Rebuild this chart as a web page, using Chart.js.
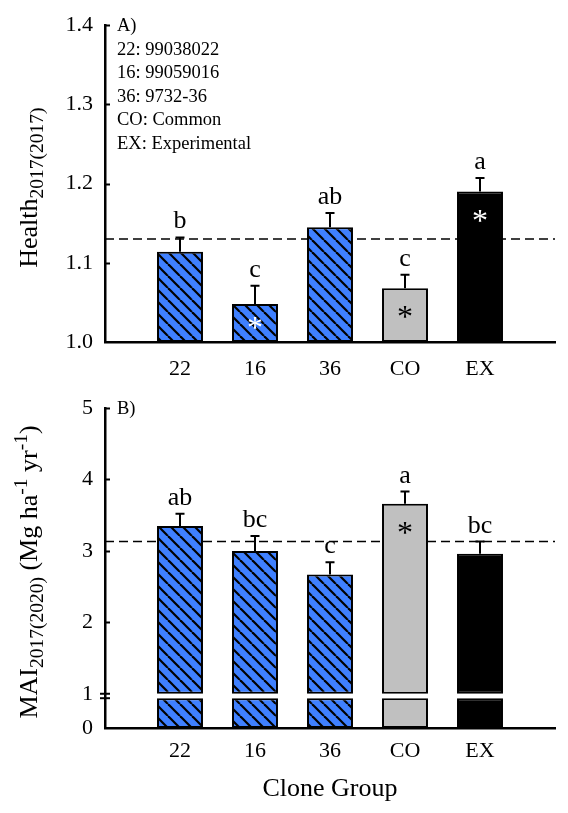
<!DOCTYPE html>
<html>
<head>
<meta charset="utf-8">
<script src="https://cdn.jsdelivr.net/npm/chart.js@4.4.1/dist/chart.umd.min.js"></script>
<style>
  body { margin: 0; background: #fff; }
  .panel { position: absolute; left: 0; width: 568px; }
  #boxA { top: 0; height: 380px; }
  #boxB { top: 380px; height: 433px; }
</style>
</head>
<body>
<div class="panel" id="boxA"><canvas id="chartA"></canvas></div>
<div class="panel" id="boxB"><canvas id="chartB"></canvas></div>
<script>
// data
const categories = ['22', '16', '36', 'CO', 'EX'];
const cloneNames = ['22: 99038022', '16: 99059016', '36: 9732-36', 'CO: Common', 'EX: Experimental'];

const healthMean = [1.114, 1.048, 1.145, 1.068, 1.190];
const healthErr = [0.018, 0.023, 0.018, 0.017, 0.017];
const healthLetters = ['b', 'c', 'ab', 'c', 'a'];
const healthStar = [false, true, false, true, true];
const healthRef = 1.13;
const healthTicks = [1.0, 1.1, 1.2, 1.3, 1.4];

const maiMean = [3.35, 3.00, 2.67, 3.66, 2.96];
const maiErr = [0.17, 0.21, 0.17, 0.17, 0.17];
const maiLetters = ['ab', 'bc', 'c', 'a', 'bc'];
const maiStar = [false, false, false, true, false];
const maiRef = 3.13;
const maiTicks = [0, 1, 2, 3, 4, 5];

const SERIF = "'Liberation Serif', 'Times New Roman', serif";
const BLUE = '#3f80ff';
const GRAY = '#c0c0c0';

// y axis of panel B is broken between 0 and 1
const BREAK_AT = 1;
const BREAK_FRAC = 0.107;
const LOW_TOP = 0.87;

class BrokenLinearScale extends Chart.LinearScale {
    getPixelForValue(value) {
        if (value === null || isNaN(value)) return NaN;
        const span = this.bottom - this.top;
        const low = span * BREAK_FRAC;
        if (value <= BREAK_AT) {
            return this.bottom - (value - this.min) / (BREAK_AT - this.min) * low;
        }
        return this.bottom - low - (value - BREAK_AT) / (this.max - BREAK_AT) * (span - low);
    }
    getValueForPixel(pixel) {
        const span = this.bottom - this.top;
        const low = span * BREAK_FRAC;
        const d = this.bottom - pixel;
        if (d <= low) return this.min + d / low * (BREAK_AT - this.min);
        return BREAK_AT + (d - low) / (span - low) * (this.max - BREAK_AT);
    }
}
BrokenLinearScale.id = 'brokenLinear';
BrokenLinearScale.defaults = Chart.LinearScale.defaults;
Chart.register(BrokenLinearScale);

function makeHatch() {
    const c = document.createElement('canvas');
    c.width = 12;
    c.height = 12;
    const g = c.getContext('2d');
    g.fillStyle = BLUE;
    g.fillRect(0, 0, 12, 12);
    g.strokeStyle = '#000';
    g.lineWidth = 2.2;
    [-12, 0, 12].forEach(function(off) {
        g.beginPath();
        g.moveTo(off, 0);
        g.lineTo(off + 12, 12);
        g.stroke();
    });
    return g.createPattern(c, 'repeat');
}

const hatch = makeHatch();
const barFills = [hatch, hatch, hatch, GRAY, '#000000'];
const starColours = ['#fff', '#fff', '#fff', '#000', '#fff'];

function points(values, low) {
    return values.map(function(v, i) {
        return { x: i + 1, y: low === undefined ? v : [low, v] };
    });
}

function drawRich(ctx, parts, x, yCenter) {
    ctx.save();
    ctx.translate(x, yCenter);
    ctx.rotate(-Math.PI / 2);
    let total = 0;
    parts.forEach(function(p) {
        ctx.font = p.size + 'px ' + SERIF;
        total += ctx.measureText(p.text).width;
    });
    let pos = -total / 2;
    ctx.fillStyle = '#000';
    ctx.textAlign = 'left';
    ctx.textBaseline = 'alphabetic';
    parts.forEach(function(p) {
        ctx.font = p.size + 'px ' + SERIF;
        ctx.fillText(p.text, pos, p.shift);
        pos += ctx.measureText(p.text).width;
    });
    ctx.restore();
}

// reference line, error bars, letters, stars, ticks, notes and title
function decor(cfg) {
    return {
        id: 'decor' + cfg.name,
        beforeDatasetsDraw(chart) {
            const ctx = chart.ctx;
            const area = chart.chartArea;
            const y = chart.scales.y.getPixelForValue(cfg.ref);
            ctx.save();
            ctx.strokeStyle = '#000';
            ctx.lineWidth = 1.5;
            ctx.setLineDash([9, 5]);
            ctx.beginPath();
            ctx.moveTo(area.left, y);
            ctx.lineTo(area.right, y);
            ctx.stroke();
            ctx.restore();
        },
        afterDatasetsDraw(chart) {
            const ctx = chart.ctx;
            const xs = chart.scales.x;
            const ys = chart.scales.y;
            ctx.save();
            cfg.mean.forEach(function(m, i) {
                const x = xs.getPixelForValue(i + 1);
                const top = ys.getPixelForValue(m);
                const err = ys.getPixelForValue(m + cfg.err[i]);
                ctx.strokeStyle = '#000';
                ctx.lineWidth = 2;
                ctx.beginPath();
                ctx.moveTo(x, top);
                ctx.lineTo(x, err);
                ctx.moveTo(x - 4.5, err);
                ctx.lineTo(x + 4.5, err);
                ctx.stroke();

                ctx.fillStyle = '#000';
                ctx.font = '26px ' + SERIF;
                ctx.textAlign = 'center';
                ctx.textBaseline = 'alphabetic';
                ctx.fillText(cfg.letters[i], x, err - 9);

                if (cfg.star[i]) {
                    const bottom = ys.getPixelForValue(cfg.floor);
                    const cy = Math.min(top + 24, (top + bottom) / 2);
                    ctx.font = '32px ' + SERIF;
                    const mt = ctx.measureText('*');
                    ctx.fillStyle = starColours[i];
                    ctx.fillText('*', x, cy + (mt.actualBoundingBoxAscent - mt.actualBoundingBoxDescent) / 2);
                }
            });
            ctx.restore();
        },
        afterDraw(chart) {
            const ctx = chart.ctx;
            const area = chart.chartArea;
            const ys = chart.scales.y;
            ctx.save();
            ctx.strokeStyle = '#000';
            ctx.lineWidth = 2;
            cfg.ticks.forEach(function(v) {
                if (v <= cfg.floor || v === cfg.breakAt) return;
                const y = Math.round(ys.getPixelForValue(v)) + 0.5;
                ctx.beginPath();
                ctx.moveTo(area.left, y);
                ctx.lineTo(area.left + 5, y);
                ctx.stroke();
            });
            if (cfg.breakAt !== undefined) {
                [cfg.breakAt, LOW_TOP].forEach(function(v) {
                    const y = ys.getPixelForValue(v);
                    ctx.beginPath();
                    ctx.moveTo(area.left - 5, y);
                    ctx.lineTo(area.left + 5, y);
                    ctx.stroke();
                });
            }
            ctx.fillStyle = '#000';
            ctx.textAlign = 'left';
            ctx.textBaseline = 'middle';
            ctx.font = '18.5px ' + SERIF;
            ctx.fillText(cfg.tag, area.left + 12, area.top + 1);
            cfg.notes.forEach(function(t, i) {
                ctx.fillText(t, area.left + 12, area.top + 25 + i * 23.4);
            });
            ctx.restore();
            drawRich(ctx, cfg.title, 37, (area.top + area.bottom) / 2 + 4);
        }
    };
}

function xScale(height, pad, title) {
    return {
        type: 'linear',
        min: 0,
        max: 6,
        offset: false,
        afterBuildTicks: function(scale) {
            scale.ticks = categories.map(function(c, i) { return { value: i + 1 }; });
        },
        afterFit: function(scale) { scale.height = height; },
        grid: { display: false, drawTicks: false, offset: false },
        border: { display: true, color: '#000', width: 2.5 },
        ticks: {
            autoSkip: false,
            maxRotation: 0,
            padding: pad,
            color: '#000',
            font: { family: SERIF, size: 22 },
            callback: function(v) { return categories[v - 1]; }
        },
        title: title
    };
}

function yScale(type, min, max, tickValues, fmt) {
    return {
        type: type,
        min: min,
        max: max,
        afterBuildTicks: function(scale) {
            scale.ticks = tickValues.map(function(v) { return { value: v }; });
        },
        afterFit: function(scale) { scale.width = 105; },
        grid: { display: false, drawTicks: false },
        border: { display: true, color: '#000', width: 2.5 },
        ticks: {
            padding: 12,
            color: '#000',
            font: { family: SERIF, size: 22 },
            callback: fmt
        }
    };
}

const barStyle = {
    backgroundColor: barFills,
    borderColor: '#000',
    borderWidth: 2,
    borderSkipped: false,
    barPercentage: 0.613,
    categoryPercentage: 1
};

new Chart(document.getElementById('chartA'), {
    type: 'bar',
    data: {
        datasets: [Object.assign({ data: points(healthMean), base: healthTicks[0] }, barStyle)]
    },
    options: {
        responsive: true,
        maintainAspectRatio: false,
        animation: false,
        layout: { padding: { top: 20, right: 13, left: 0, bottom: 0 } },
        plugins: { legend: { display: false }, tooltip: { enabled: false } },
        scales: {
            x: xScale(38, 14, { display: false }),
            y: yScale('linear', 1.0, 1.4, healthTicks, function(v) { return v.toFixed(1); })
        }
    },
    plugins: [decor({
        name: 'A', mean: healthMean, err: healthErr, letters: healthLetters, star: healthStar,
        ref: healthRef, ticks: healthTicks, floor: healthTicks[0], tag: 'A)', notes: cloneNames,
        title: [
            { text: 'Health', size: 26, shift: 0 },
            { text: '2017(2017)', size: 19.5, shift: 6 }
        ]
    })]
});

new Chart(document.getElementById('chartB'), {
    type: 'bar',
    data: {
        datasets: [
            Object.assign({ data: points(maiMean, BREAK_AT), grouped: false }, barStyle),
            Object.assign({ data: points(maiMean.map(function() { return LOW_TOP; }), 0), grouped: false }, barStyle)
        ]
    },
    options: {
        responsive: true,
        maintainAspectRatio: false,
        animation: false,
        layout: { padding: { top: 28, right: 13, left: 0, bottom: 0 } },
        plugins: { legend: { display: false }, tooltip: { enabled: false } },
        scales: {
            x: xScale(85, 10, {
                display: true,
                text: 'Clone Group',
                color: '#000',
                font: { family: SERIF, size: 26 },
                padding: { top: 2, bottom: 8 }
            }),
            y: yScale('brokenLinear', 0, 5, maiTicks, function(v) { return String(v); })
        }
    },
    plugins: [decor({
        name: 'B', mean: maiMean, err: maiErr, letters: maiLetters, star: maiStar,
        ref: maiRef, ticks: maiTicks, floor: BREAK_AT, breakAt: BREAK_AT, tag: 'B)', notes: [],
        title: [
            { text: 'MAI', size: 26, shift: 0 },
            { text: '2017(2020)', size: 19.5, shift: 6 },
            { text: ' (Mg ha', size: 26, shift: 0 },
            { text: '-1', size: 19.5, shift: -10 },
            { text: ' yr', size: 26, shift: 0 },
            { text: '-1', size: 19.5, shift: -10 },
            { text: ')', size: 26, shift: 0 }
        ]
    })]
});
</script>
</body>
</html>
